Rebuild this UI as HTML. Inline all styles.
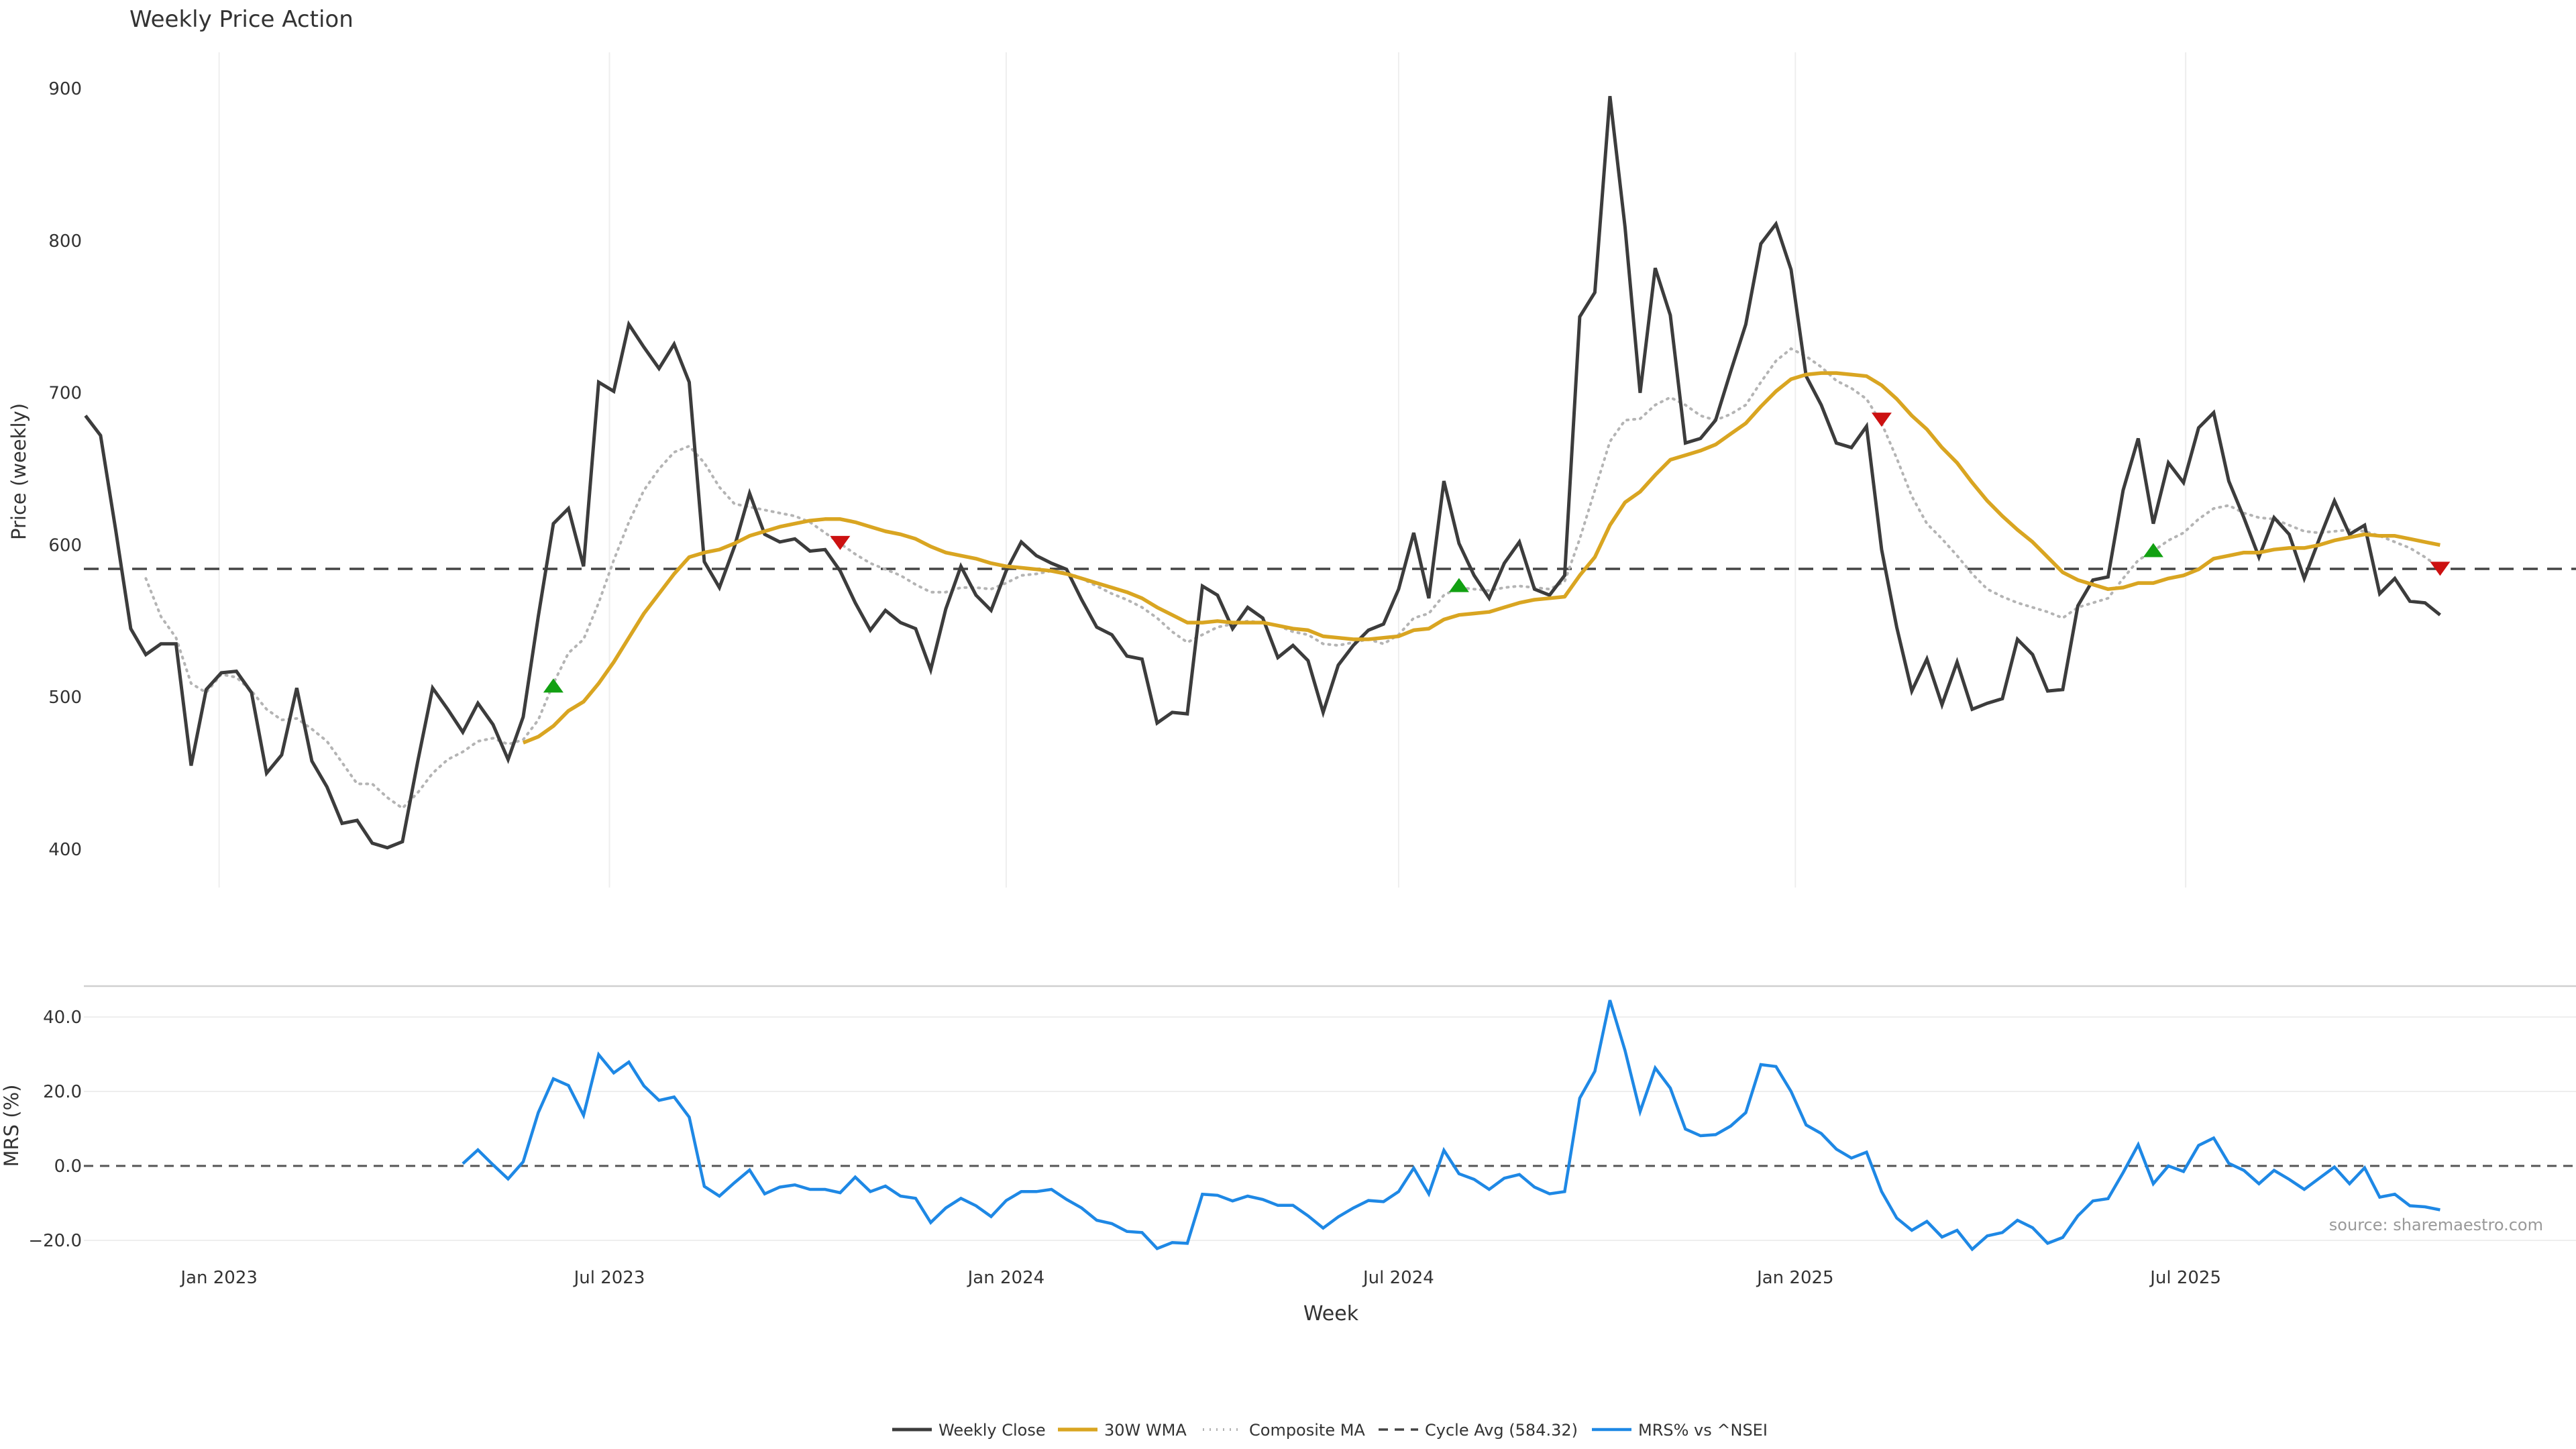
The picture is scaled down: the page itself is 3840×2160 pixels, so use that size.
<!DOCTYPE html>
<html><head><meta charset="utf-8"><title>Weekly Price Action</title>
<style>
html,body{margin:0;padding:0;background:#fff;}
svg{display:block;font-family:"DejaVu Sans","Liberation Sans",sans-serif;}
</style></head>
<body>
<svg id="chart" width="3840" height="2160" viewBox="0 0 3840 2160" xmlns="http://www.w3.org/2000/svg">
<rect x="0" y="0" width="3840" height="2160" fill="#fff"/>
<text x="193" y="40" font-size="34" fill="#333">Weekly Price Action</text>
<g id="grid"></g>
<g id="series"></g>
<g id="axes"></g>
<text transform="translate(38,703) rotate(-90)" text-anchor="middle" font-size="29" fill="#333">Price (weekly)</text>
<text transform="translate(27,1678) rotate(-90)" text-anchor="middle" font-size="29" fill="#333">MRS (%)</text>
<text x="1984" y="1968" text-anchor="middle" font-size="30" fill="#333">Week</text>
<text x="3791" y="1834" text-anchor="end" font-size="24" fill="#999">source: sharemaestro.com</text>
<g id="legend"></g>
</svg>
<script>
// ---- data ----
const startDate = "2022-10-31";
const weeklyClose = [685,672,610,545,528,535,535,455,505,516,517,503,450,462,506,458,441,417,419,404,401,405,457,506,492,477,496,482,459,487,553,614,624,586,707,701,745,730,716,732,707,589,572,
599,634,607,602,604,596,597,583,562,544,557,549,545,518,558,586,567,557,583,602,593,588,584,564,546,541,527,525,483,490,489,573,567,545,559,552,526,534,524,490,521,534,544,
548,571,608,565,642,601,580,565,588,602,571,567,580,750,766,895,809,700,782,751,667,670,682,714,745,798,811,781,711,692,667,664,678,597,546,504,525,495,523,492,496,499,
538,528,504,505,560,577,579,636,670,614,654,641,677,687,642,618,592,618,607,578,604,629,607,613,568,578,563,562,554];
const wmaStart = 29;
const wma30 = [470,474,481,491,497,509,523,539,555,568,581,592,595,597,601,
606,609,612,614,616,617,617,615,612,609,607,604,599,595,593,591,588,586,585,584,583,581,578,575,572,569,565,559,554,549,549,550,549,549,549,547,545,544,540,539,538,538,
539,540,544,545,551,554,555,556,559,562,564,565,566,580,592,613,628,635,646,656,659,662,666,673,680,691,701,709,712,713,713,712,711,705,696,685,676,664,654,641,629,619,
610,602,592,582,577,574,571,572,575,575,578,580,584,591,593,595,595,597,598,598,600,603,605,607,606,606,604,602,600];
const compStart = 4;
const compositeMA = [578,553,539,509,503,515,513,504,492,485,486,479,471,457,443,443,434,427,437,450,459,464,471,473,469,472,485,509,529,538,562,590,615,636,650,661,665,654,638,627,
625,623,621,619,615,608,601,594,588,584,580,574,569,569,572,572,571,575,580,581,583,582,578,573,568,564,559,552,543,536,541,546,548,550,549,547,543,541,535,534,536,538,
535,541,552,555,567,572,571,570,572,573,572,571,576,604,636,668,682,683,692,697,692,685,682,686,692,707,721,729,724,717,708,703,696,680,657,632,614,604,593,581,571,566,
562,559,556,552,559,562,565,578,590,596,603,608,617,624,626,621,618,617,613,609,608,609,610,609,606,602,598,592,585];
const cycleAvg = 584.32;
const buyIdx = [31,91,137];
const buyVal = [507,573,596];
const sellIdx = [50,119,156];
const sellVal = [602,683,585];
const mrsStart = 25;
const mrs = [0.6,4.3,0.3,-3.5,1.1,14.3,23.4,21.6,13.6,29.9,25.0,27.9,21.5,17.6,18.5,13.1,-5.5,-8.1,-4.5,-1.1,
-7.5,-5.7,-5.1,-6.3,-6.3,-7.2,-3.0,-6.9,-5.4,-8.1,-8.7,-15.2,-11.3,-8.7,-10.7,-13.6,-9.3,-6.9,-6.9,-6.3,
-9.0,-11.3,-14.6,-15.5,-17.6,-17.9,-22.2,-20.6,-20.8,-7.6,-7.9,-9.4,-8.1,-9.0,-10.6,-10.6,-13.4,-16.7,-13.7,-11.3,
-9.3,-9.6,-6.9,-0.6,-7.5,4.2,-2.1,-3.6,-6.3,-3.3,
-2.3,-5.7,-7.5,-6.9,18.2,25.4,44.5,31.0,14.6,26.3,20.9,9.9,8.1,8.4,10.7,14.3,27.2,26.7,20.0,11.0,8.7,4.5,2.1,3.7,-6.9,-14.0,-17.3,
-14.9,-19.1,-17.3,-22.4,-18.8,-17.9,-14.6,-16.6,-20.8,-19.2,-13.4,-9.4,-8.8,-1.8,5.7,-4.8,0,-1.5,5.5,7.5,
0.7,-1.2,-4.8,-1.2,-3.6,-6.3,-3.3,-0.3,-4.8,-0.5,-8.4,-7.6,-10.7,-11.0,-11.8];
const priceTicks = [400,500,600,700,800,900];
const mrsTicks = [-20,0,20,40];
const mrsTickLabels = ["\u221220.0","0.0","20.0","40.0"];
const dateTicks = ["2023-01-01","2023-07-01","2024-01-01","2024-07-01","2025-01-01","2025-07-01"];
const dateTickLabels = ["Jan 2023","Jul 2023","Jan 2024","Jul 2024","Jan 2025","Jul 2025"];

// ---- scales ----
const X0 = 127.4, DX = 22.5, PLOT_L = 125, PLOT_R = 3840;
function xIdx(i){ return X0 + i*DX; }
function xDate(s){ const d=(new Date(s+"T00:00:00Z") - new Date(startDate+"T00:00:00Z"))/86400000/7; return xIdx(d); }
function yP(v){ return 132 + (900 - v)*2.268; }
function yM(v){ return 1738 - v*5.55; }
const NS="http://www.w3.org/2000/svg";
function mk(tag, parent, attrs){ const e=document.createElementNS(NS,tag); for(const k in attrs) e.setAttribute(k,attrs[k]); parent.appendChild(e); return e; }
function pathFrom(arr, start, xs, ys){ return arr.map((v,j)=>(j?"L":"M")+xs(start+j).toFixed(1)+","+ys(v).toFixed(1)).join(""); }

const grid=document.getElementById("grid"), series=document.getElementById("series"), axes=document.getElementById("axes");

dateTicks.forEach((d,k)=>{
  const x=xDate(d);
  const g=mk("line",grid,{x1:x,x2:x,y1:78,y2:1323,stroke:"#eeeeee","stroke-width":2});
  
  
  const t=mk("text",axes,{x:x,y:1913,"text-anchor":"middle","font-size":26,fill:"#333"});
  t.textContent=dateTickLabels[k];
  
  
});
priceTicks.forEach(v=>{
  const t=mk("text",axes,{x:122,y:yP(v)+9,"text-anchor":"end","font-size":26,fill:"#333"});
  t.textContent=v;
  
  
});
const sep=mk("line",grid,{x1:PLOT_L,x2:PLOT_R,y1:1470,y2:1470,stroke:"#d0d0d0","stroke-width":2.5});


mrsTicks.forEach((v,k)=>{
  if(v!==0){
    const g=mk("line",grid,{x1:PLOT_L,x2:PLOT_R,y1:yM(v),y2:yM(v),stroke:"#eeeeee","stroke-width":2});
    
    
  }
  const t=mk("text",axes,{x:122,y:yM(v)+9,"text-anchor":"end","font-size":26,fill:"#333"});
  t.textContent=mrsTickLabels[k];
  
  
});
const zl=mk("line",grid,{x1:PLOT_L,x2:PLOT_R,y1:yM(0),y2:yM(0),stroke:"#555","stroke-width":3,"stroke-dasharray":"14 10"});



const ca=mk("line",series,{x1:PLOT_L,x2:PLOT_R,y1:yP(cycleAvg),y2:yP(cycleAvg),stroke:"#444","stroke-width":3.5,"stroke-dasharray":"22 14"});


const cm=mk("path",series,{d:pathFrom(compositeMA,compStart,xIdx,yP),fill:"none",stroke:"#b4b4b4","stroke-width":4,"stroke-dasharray":"2 8","stroke-linecap":"round"});


const cl=mk("path",series,{d:pathFrom(weeklyClose,0,xIdx,yP),fill:"none",stroke:"#3c3c3c","stroke-width":5,"stroke-linejoin":"miter"});


const wm=mk("path",series,{d:pathFrom(wma30,wmaStart,xIdx,yP),fill:"none",stroke:"#d9a521","stroke-width":5.5,"stroke-linejoin":"round"});


buyIdx.forEach((i,k)=>{
  const x=xIdx(i), y=yP(buyVal[k]);
  const m=mk("path",series,{d:`M${x-15},${y+9}L${x+15},${y+9}L${x},${y-12}Z`,fill:"#12a012"});
  
  
});
sellIdx.forEach((i,k)=>{
  const x=xIdx(i), y=yP(sellVal[k]);
  const m=mk("path",series,{d:`M${x-15},${y-9}L${x+15},${y-9}L${x},${y+12}Z`,fill:"#cc1111"});
  
  
});
const mr=mk("path",series,{d:pathFrom(mrs,mrsStart,xIdx,yM),fill:"none",stroke:"#1e88e5","stroke-width":4.5,"stroke-linejoin":"miter"});



const leg=document.getElementById("legend");
const legendItems=[
  {x:1330,label:"Weekly Close",stroke:"#3c3c3c",dash:"",w:5},
  {x:1577,label:"30W WMA",stroke:"#d9a521",dash:"",w:5.5},
  {x:1793,label:"Composite MA",stroke:"#b4b4b4",dash:"2 8",w:4},
  {x:2055,label:"Cycle Avg (584.32)",stroke:"#444",dash:"14 10",w:3.5},
  {x:2373,label:"MRS% vs ^NSEI",stroke:"#1e88e5",dash:"",w:4.5}
];
legendItems.forEach(it=>{
  const g=mk("g",leg,{});
  
  
  const a={x1:it.x,x2:it.x+59,y1:2131,y2:2131,stroke:it.stroke,"stroke-width":it.w};
  if(it.dash) a["stroke-dasharray"]=it.dash;
  mk("line",g,a);
  const t=mk("text",g,{x:it.x+69,y:2140,"font-size":24,fill:"#333"});
  t.textContent=it.label;
});
</script>
</body></html>
